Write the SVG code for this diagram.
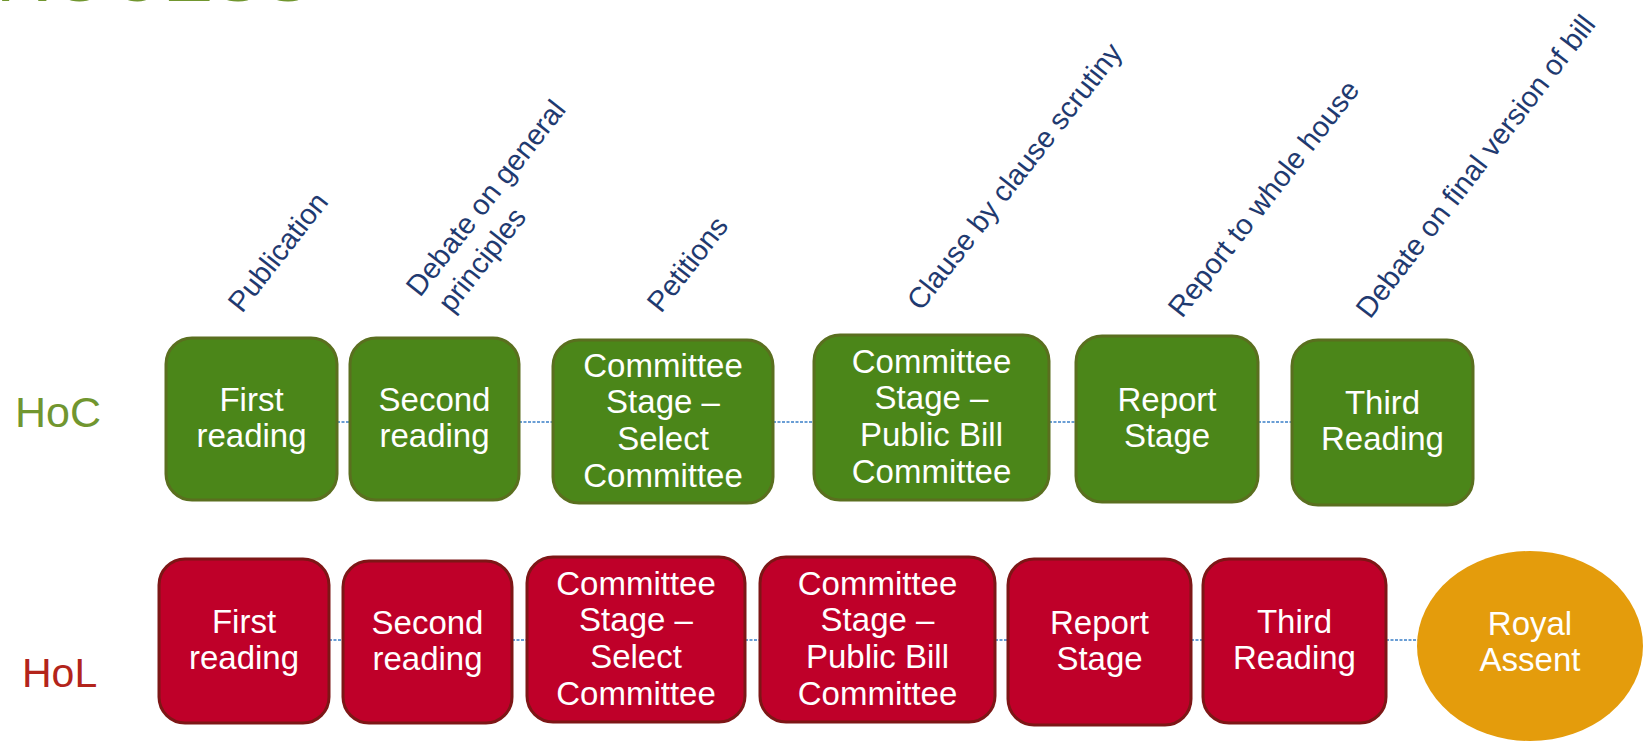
<svg xmlns="http://www.w3.org/2000/svg" width="1648" height="745" viewBox="0 0 1648 745">
<style>
.bg{fill:#ffffff}
.hoc{fill:#4b8619;stroke:#5a6f1f;stroke-width:3}
.hol{fill:#bf0029;stroke:#7d1616;stroke-width:3}
.ra{fill:#e49c0c}
.t{font-family:"Liberation Sans",Arial,sans-serif;font-size:33px;fill:#ffffff;text-anchor:middle}
.lab{font-family:"Liberation Sans",Arial,sans-serif;font-size:29px;fill:#1f3a70}
.house{font-family:"Liberation Sans",Arial,sans-serif}
.con{stroke:#3a7fc8;stroke-width:1.5;stroke-dasharray:3 1.5;fill:none}
</style>
<rect class="bg" x="0" y="0" width="1648" height="745"/>
<text x="-54" y="0.5" class="house" font-size="75" fill="#71962f">PROCESS</text>
<g id="row-labels">
<text id="hoc-label" x="15" y="427" class="house" font-size="43" fill="#71962f">HoC</text>
<text id="hol-label" x="22" y="687" class="house" font-size="41" fill="#b3241b">HoL</text>
</g>
<g id="stage-labels">
<text class="lab" transform="translate(242,314) rotate(-52)">Publication</text>
<text class="lab" transform="translate(420,298) rotate(-52)"><tspan x="0" y="0">Debate on general</tspan><tspan x="7" y="35">principles</tspan></text>
<text class="lab" transform="translate(661,314) rotate(-52)">Petitions</text>
<text class="lab" transform="translate(921,312) rotate(-52)">Clause by clause scrutiny</text>
<text class="lab" transform="translate(1182,319) rotate(-52)">Report to whole house</text>
<text class="lab" transform="translate(1370,320) rotate(-52.5)">Debate on final version of bill</text>
</g>
<g id="connectors">
<line class="con" x1="337" y1="422" x2="350" y2="422"/>
<line class="con" x1="519" y1="422" x2="553" y2="422"/>
<line class="con" x1="773" y1="422" x2="814" y2="422"/>
<line class="con" x1="1049" y1="422" x2="1076" y2="422"/>
<line class="con" x1="1258" y1="422" x2="1292" y2="422"/>
<line class="con" x1="329" y1="640" x2="343" y2="640"/>
<line class="con" x1="512" y1="640" x2="527" y2="640"/>
<line class="con" x1="745" y1="640" x2="760" y2="640"/>
<line class="con" x1="995" y1="640" x2="1008" y2="640"/>
<line class="con" x1="1191" y1="640" x2="1203" y2="640"/>
<line class="con" x1="1386" y1="640" x2="1418" y2="640"/>
</g>
<g id="hoc-first">
<rect class="hoc" x="166" y="338" width="171" height="162" rx="26"/>
<text class="t" x="251.5" y="411">First</text><text class="t" x="251.5" y="447">reading</text>
</g>
<g id="hoc-second">
<rect class="hoc" x="350" y="338" width="169" height="162" rx="26"/>
<text class="t" x="434.5" y="411">Second</text><text class="t" x="434.5" y="447">reading</text>
</g>
<g id="hoc-select">
<rect class="hoc" x="553" y="340" width="220" height="163" rx="26"/>
<text class="t" x="663" y="377">Committee</text><text class="t" x="663" y="413">Stage –</text><text class="t" x="663" y="450">Select</text><text class="t" x="663" y="487">Committee</text>
</g>
<g id="hoc-public">
<rect class="hoc" x="814" y="335" width="235" height="165" rx="26"/>
<text class="t" x="931.5" y="373">Committee</text><text class="t" x="931.5" y="409">Stage –</text><text class="t" x="931.5" y="446">Public Bill</text><text class="t" x="931.5" y="483">Committee</text>
</g>
<g id="hoc-report">
<rect class="hoc" x="1076" y="336" width="182" height="166" rx="26"/>
<text class="t" x="1167" y="411">Report</text><text class="t" x="1167" y="447">Stage</text>
</g>
<g id="hoc-third">
<rect class="hoc" x="1292" y="340" width="181" height="165" rx="26"/>
<text class="t" x="1382.5" y="414">Third</text><text class="t" x="1382.5" y="450">Reading</text>
</g>
<g id="hol-first">
<rect class="hol" x="159" y="559" width="170" height="164" rx="26"/>
<text class="t" x="244" y="633">First</text><text class="t" x="244" y="669">reading</text>
</g>
<g id="hol-second">
<rect class="hol" x="343" y="561" width="169" height="162" rx="26"/>
<text class="t" x="427.5" y="634">Second</text><text class="t" x="427.5" y="670">reading</text>
</g>
<g id="hol-select">
<rect class="hol" x="527" y="557" width="218" height="165" rx="26"/>
<text class="t" x="636" y="595">Committee</text><text class="t" x="636" y="631">Stage –</text><text class="t" x="636" y="668">Select</text><text class="t" x="636" y="705">Committee</text>
</g>
<g id="hol-public">
<rect class="hol" x="760" y="557" width="235" height="165" rx="26"/>
<text class="t" x="877.5" y="595">Committee</text><text class="t" x="877.5" y="631">Stage –</text><text class="t" x="877.5" y="668">Public Bill</text><text class="t" x="877.5" y="705">Committee</text>
</g>
<g id="hol-report">
<rect class="hol" x="1008" y="559" width="183" height="166" rx="26"/>
<text class="t" x="1099.5" y="634">Report</text><text class="t" x="1099.5" y="670">Stage</text>
</g>
<g id="hol-third">
<rect class="hol" x="1203" y="559" width="183" height="164" rx="26"/>
<text class="t" x="1294.5" y="633">Third</text><text class="t" x="1294.5" y="669">Reading</text>
</g>
<g id="royal-assent">
<ellipse class="ra" cx="1530" cy="646" rx="113" ry="95"/>
<text class="t" x="1530" y="635">Royal</text><text class="t" x="1530" y="671">Assent</text>
</g>
</svg>
